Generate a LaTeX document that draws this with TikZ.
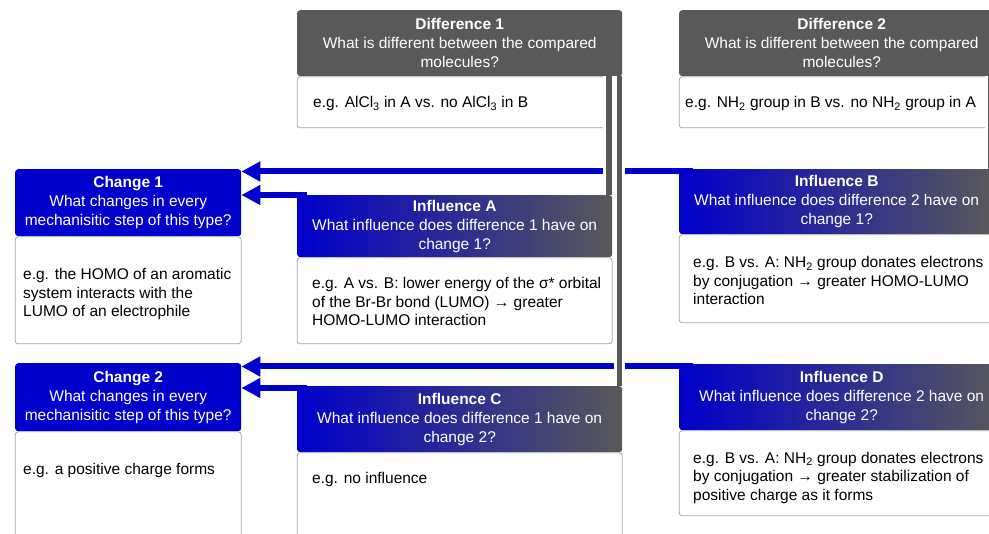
\documentclass[tikz,border=0pt]{standalone}
\usepackage{fontspec}
\setmainfont{Liberation Sans}
\usepackage{tikz}
\usetikzlibrary{positioning,arrows.meta}
\definecolor{chblue}{HTML}{0000CC}
\definecolor{dfgray}{HTML}{595959}
\definecolor{rim}{HTML}{A6A6A6}

\begin{document}
\begin{tikzpicture}[x=1pt,y=1pt,
    font=\fontsize{15.5}{18.5}\selectfont,
    head/.style={anchor=north west,inner sep=0pt,align=center,text=white,rounded corners=3pt,
      font=\fontsize{15.5}{19}\selectfont},
    diffhead/.style={head,fill=dfgray},
    chghead/.style={head,fill=chblue},
    inflhead/.style={head,left color=chblue,right color=dfgray},
    body/.style={draw=rim,line width=0.8pt,fill=white,inner sep=0pt,rounded corners=3pt},
    note/.style={inner sep=0pt,align=left},
    link/.style={draw=chblue,line width=6pt,-{Triangle[length=19pt,width=19pt]}},
    halo/.style={draw=white,line width=#1},
    bar/.style={draw=dfgray,line width=#1}]

  \clip (0,0) rectangle (989,-534);
  \fill[white] (0,0) rectangle (989,-534);

  % differences
  \node[diffhead,minimum width=325pt,minimum height=66pt] (dif1h) at (297,-10)
    {\textbf{Difference 1}\\What is different between the compared\\molecules?};
  \node[body,minimum width=325pt,minimum height=51pt,below=0pt of dif1h] (dif1b) {};
  \node[note,below right=20pt and 16pt of dif1h.south west] (dif1t)
    {e.g. AlCl\textsubscript{3} in A vs. no AlCl\textsubscript{3} in B};

  \node[diffhead,minimum width=325pt,minimum height=66pt] (dif2h) at (679,-10)
    {\textbf{Difference 2}\\What is different between the compared\\molecules?};
  \node[body,minimum width=325pt,minimum height=51pt,below=0pt of dif2h] (dif2b) {};
  \node[note,below right=20pt and 6pt of dif2h.south west] (dif2t)
    {e.g. NH\textsubscript{2} group in B vs. no NH\textsubscript{2} group in A};

  % changes
  \node[chghead,minimum width=226pt,minimum height=67pt] (chg1h) at (15,-169)
    {\textbf{Change 1}\\What changes in every\\mechanisitic step of this type?};
  \node[body,minimum width=226pt,minimum height=107pt,below=0pt of chg1h] (chg1b) {};
  \node[note,below right=32pt and 8pt of chg1h.south west] (chg1t)
    {e.g. the HOMO of an aromatic\\system interacts with the\\LUMO of an electrophile};

  \node[chghead,minimum width=226pt,minimum height=68pt] (chg2h) at (15,-363)
    {\textbf{Change 2}\\What changes in every\\mechanisitic step of this type?};
  \node[body,minimum width=226pt,minimum height=140pt,below=0pt of chg2h] (chg2b) {};
  \node[note,below right=32pt and 8pt of chg2h.south west] (chg2t)
    {e.g. a positive charge forms};

  % influences
  \node[inflhead,minimum width=315pt,minimum height=62pt] (infAh) at (297,-195)
    {\textbf{Influence A}\\What influence does difference 1 have on\\change 1?};
  \node[body,minimum width=315pt,minimum height=86pt,below=0pt of infAh] (infAb) {};
  \node[note,below right=20pt and 15pt of infAh.south west] (infAt)
    {e.g. A vs. B: lower energy of the σ* orbital\\of the Br-Br bond (LUMO) → greater\\HOMO-LUMO interaction};

  \node[inflhead,minimum width=315pt,minimum height=65pt] (infBh) at (679,-169)
    {\textbf{Influence B}\\What influence does difference 2 have on\\change 1?};
  \node[body,minimum width=315pt,minimum height=88pt,below=0pt of infBh] (infBb) {};
  \node[note,below right=22pt and 14pt of infBh.south west] (infBt)
    {e.g. B vs. A: NH\textsubscript{2} group donates electrons\\by conjugation → greater HOMO-LUMO\\interaction};

  \node[inflhead,minimum width=325pt,minimum height=66pt] (infCh) at (297,-386)
    {\textbf{Influence C}\\What influence does difference 1 have on\\change 2?};
  \node[body,minimum width=325pt,minimum height=120pt,below=0pt of infCh] (infCb) {};
  \node[note,below right=20pt and 15pt of infCh.south west] (infCt)
    {e.g. no influence};

  \node[inflhead,minimum width=325pt,minimum height=66pt] (infDh) at (679,-364)
    {\textbf{Influence D}\\What influence does difference 2 have on\\change 2?};
  \node[body,minimum width=325pt,minimum height=85pt,below=0pt of infDh] (infDb) {};
  \node[note,below right=21.5pt and 14pt of infDh.south west] (infDt)
    {e.g. B vs. A: NH\textsubscript{2} group donates electrons\\by conjugation → greater stabilization of\\positive charge as it forms};

  % blue arrows into the changes
  \coordinate (pB) at ([shift={(14pt,-2.5pt)}]infBh.north west);
  \coordinate (pA) at ([xshift=10pt]infAh.north west);
  \coordinate (pD) at ([shift={(14pt,-2.5pt)}]infDh.north west);
  \coordinate (pC) at ([shift={(10pt,-2pt)}]infCh.north west);
  \draw[link] (pB) -- (pB -| chg1h.east);
  \draw[link] (pA) -- (pA -| chg1h.east);
  \draw[link] (pD) -- (pD -| chg2h.east);
  \draw[link] (pC) -- (pC -| chg2h.east);

  % gray bars from the differences
  \coordinate (sA) at ([xshift=-3pt]infAh.north east);
  \coordinate (sC) at ([xshift=-2.5pt]infCh.north east);
  \coordinate (sB) at ([xshift=-3pt]infBh.north east);
  \coordinate (sD) at ([xshift=-2.5pt]infDh.north east);
  \draw[halo=12pt] (sA |- dif1h.south) -- (sA);
  \draw[halo=11pt] (sC |- dif1h.south) -- (sC);
  \draw[halo=12pt] (sB |- dif2h.south) -- (sB);
  \draw[halo=11pt] (sD |- dif2h.south) -- (sD);
  \draw[bar=6pt] (sA |- dif1h.south) -- (sA);
  \draw[bar=5pt] (sC |- dif1h.south) -- (sC);
  \draw[bar=6pt] (sB |- dif2h.south) -- (sB);
  \draw[bar=5pt] (sD |- dif2h.south) -- (sD);
\end{tikzpicture}
\end{document}
